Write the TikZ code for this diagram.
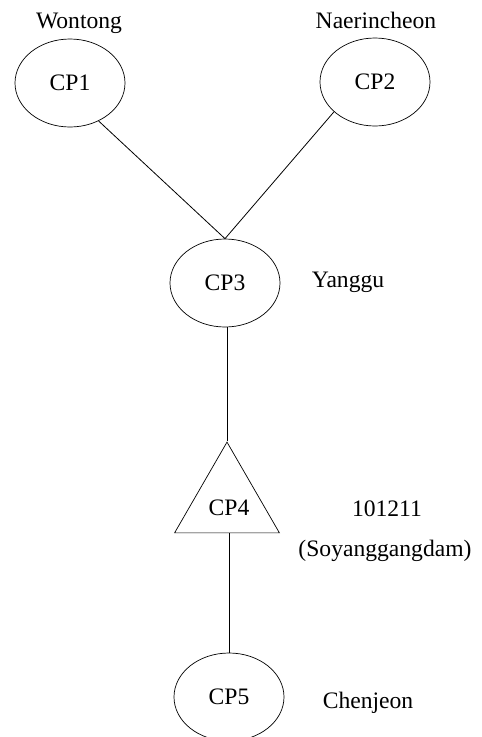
\documentclass[tikz,border=0pt]{standalone}
\usepackage{fontspec}
\setmainfont{Liberation Serif}
\usetikzlibrary{shapes.geometric}
\begin{document}
\begin{tikzpicture}[x=1pt,y=-1pt,
  every node/.style={font=\fontsize{23.6}{28}\selectfont},
  cp/.style={draw, ellipse, minimum width=110pt, minimum height=88pt, inner sep=0pt, line width=0.7pt},
  tri/.style={draw, regular polygon, regular polygon sides=3, minimum size=121pt, inner sep=0pt, line width=0.7pt},
  lbl/.style={anchor=base, inner sep=0pt},
  conn/.style={line width=0.8pt}]
\useasboundingbox (0,0) rectangle (482,737);
\node[cp] (cp1) at (70,83) {CP1};
\node[cp] (cp2) at (375,82) {CP2};
\node[cp] (cp3) at (225,283) {CP3};
\node[tri] (cp4) at (227,502.6) {};
\node[lbl] (cp4t) at (229,515) {CP4};
\node[cp] (cp5) at (229,697) {CP5};
\node[lbl] (w) at (79,28) {Wontong};
\node[lbl] (n) at (376,28) {Naerincheon};
\node[lbl] (y) at (348,287) {Yanggu};
\node[lbl] (s1) at (387,516) {101211};
\node[lbl] (s2) at (385,556) {(Soyanggangdam)};
\node[lbl] (c) at (368,708) {Chenjeon};
\draw[conn] (cp1.307) -- (cp3.north);
\draw[conn] (cp2.216) -- (cp3.north);
\draw[conn] (cp3.south -| cp4.corner 1) -- (cp4.corner 1);
\draw[conn] (cp4.south -| cp5.north) -- (cp5.north);
\end{tikzpicture}
\end{document}
